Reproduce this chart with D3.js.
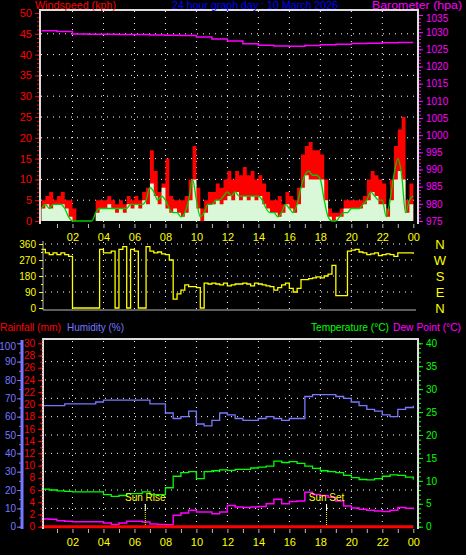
<!DOCTYPE html>
<html><head><meta charset="utf-8">
<script src="https://cdn.jsdelivr.net/npm/d3@7/dist/d3.min.js"></script>
<style>body{margin:0;background:#000}svg{display:block}text{font-family:"Liberation Sans",Arial,sans-serif}</style>
</head><body><svg id="c" width="466" height="555"></svg>
<script>
const hourLabels=["02","04","06","08","10","12","14","16","18","20","22","00"];
// quarter-hourly wind (kph), hours 0..24
const windGust=[5,6,7,5,6,7,5,5,3,0,0,0,0,0,5,5,5,6,5,4,5,4,6,5,6,5,7,8,17,12,7,9,15,6,5,5,5,6,10,18,8,3,5,7,7,9,8,10,12,10,12,11,13,11,12,10,11,9,7,5,5,6,4,7,6,5,8,16,18,19,17,17,16,10,3,2,2,3,5,5,5,5,5,6,10,12,11,10,9,3,10,18,22,25,5,9,10];
const windSpeed=[3,4,3,4,4,4,3,1,0,0,0,0,0,0,2,3,3,4,3,2,3,2,4,3,4,3,5,4,9,6,4,8,3,2,3,2,1,2,5,10,3,0,2,4,4,5,4,5,6,5,7,5,6,5,6,5,6,4,3,2,2,1,2,4,3,2,4,8,11,10,10,10,10,5,1,0,1,1,3,3,3,3,3,4,5,7,6,4,4,1,5,10,12,10,2,4,5];
const windAvg=[3,4,3,4,4,4,3,1,0,0,0,0,0,0,2,3,3,3,3,3,3,3,3,4,4,4,4,5,8,7,5,6,5,3,2,2,1,2,5,10,5,1,2,4,4,5,5,6,7,6,7,6,6,6,6,6,6,5,3,2,2,1,2,4,3,2,4,8,11,12,11,11,10,5,1,0,0,1,2,2,3,3,3,4,5,7,6,5,5,1,5,11,15,11,2,5,6];
const windDir=[330,310,300,310,300,310,300,290,0,0,0,0,0,0,0,330,310,310,320,0,330,345,0,330,320,0,0,345,320,310,315,305,300,270,50,80,100,130,120,120,115,0,140,135,140,135,130,140,125,130,135,135,140,135,125,140,135,130,125,120,100,115,130,140,110,90,110,160,160,165,170,175,170,180,190,240,70,70,70,320,325,330,315,310,300,305,310,295,300,305,300,290,310,310,310,310,305];
// hourly barometer (hPa), hours 0..24
const baro=[1030.4,1030.2,1029.5,1029.4,1029.4,1029.3,1029.3,1029.2,1029.1,1029,1028.6,1028,1027.4,1026.6,1026.2,1026,1025.9,1026.1,1026.3,1026.5,1026.7,1026.8,1026.9,1027,1027];
// half-hourly humidity, temperature, dew point, rain
const humidity=[66,66,66,67,67,67,67,68,69,69,69,69,69,69,67,67,62,59,60,63,56,55,58,62,61,59,58,58,59,60,59,58,59,59,71,72,72,72,71,70,68,66,64,63,61,60,64,65,66];
const temperature=[8.2,8,7.8,7.7,7.6,7.6,7.6,7.6,7,6.6,6.8,7.2,7.2,7.6,7,7,8.5,11,11.8,12,10.5,12,12.2,12.4,12.3,12.5,12.5,12.8,13,13.2,14.3,14,14.2,13.8,13.2,12.7,12.2,12,11.8,11.2,10.7,10.3,10.2,10.5,11,11.3,11.2,10.8,10.3];
const dewPoint=[1.7,1.6,1.3,1.2,1.1,1.1,1.1,1.1,0.8,0.5,0.8,1.2,1.2,1,0.6,0.5,0.4,2.5,3,3.6,3.2,3.2,2.8,3.2,4.6,4.3,4.2,4.3,4.4,5,6,5,5.5,5.6,7.5,7,6.8,6.4,5.6,4.5,4.1,3.8,3.6,3.4,3.3,3.6,4.2,4,3.8];
const rainfall=humidity.map(()=>0);
const sunRise=6.7, sunSet=18.4;

const svg=d3.select("#c");
svg.append("rect").attr("width",466).attr("height",555).attr("fill","#000");
const x=d3.scaleLinear().domain([0,24]).range([41.5,413.3]);

function hGrid(ys,x0,x1){ys.forEach(y=>svg.append("line").attr("x1",x0).attr("x2",x1).attr("y1",y).attr("y2",y).attr("stroke","#fff").attr("stroke-dasharray","1,5"));}
function vGrid(y0,y1){d3.range(2,24,2).forEach(h=>svg.append("line").attr("x1",x(h)).attr("x2",x(h)).attr("y1",y0).attr("y2",y1).attr("stroke","#fff").attr("stroke-dasharray","1,5"));}
function hourAxis(y){
  const g=svg.append("g").attr("transform",`translate(0,${y})`);
  g.call(d3.axisBottom(x).tickValues(d3.range(1,25)).tickSize(4).tickFormat(d=>d%2?"":hourLabels[d/2-1]));
  g.select(".domain").remove();g.selectAll("line").attr("stroke","#bbb");
  g.selectAll("text").attr("fill","#ff0").attr("font-size",11).attr("dy","0.9em");
}
function vAxis(scale,xpos,vals,minor,color,orient,fs,pad){
  const ax=(orient==="left"?d3.axisLeft(scale):d3.axisRight(scale));
  const g=svg.append("g").attr("transform",`translate(${xpos},0)`);
  g.call(ax.tickValues(vals).tickSize(4).tickPadding(pad||3).tickFormat(d3.format("d")));
  g.selectAll(".domain").remove();g.selectAll("line").attr("stroke",color);
  g.selectAll("text").attr("fill",color).attr("font-size",fs||11);
  const m=svg.append("g").attr("transform",`translate(${xpos},0)`);
  m.call((orient==="left"?d3.axisLeft(scale):d3.axisRight(scale)).tickValues(minor).tickSize(2).tickFormat(""));
  m.select(".domain").remove();m.selectAll("line").attr("stroke",color);
}
function txt(s,xx,y,c,w,fs){svg.append("text").attr("x",xx).attr("y",y).attr("fill",c).attr("font-size",fs||12).attr("textLength",w).attr("lengthAdjust","spacingAndGlyphs").text(s);}

// ===== Top panel
const yW=d3.scaleLinear().domain([0,50]).range([221,13]);
const yB=d3.scaleLinear().domain([975,1035]).range([221,15]);
hGrid(d3.range(5,50,5).map(yW),41,417);vGrid(11,223);
const stepA=(ys)=>d3.area().x((d,i)=>x(i/4)).y0(yW(0)).y1(d=>ys(d)).curve(d3.curveStepAfter);
svg.append("path").datum(windGust).attr("d",stepA(yW)).attr("fill","#f00");
svg.append("path").datum(windSpeed).attr("d",stepA(yW)).attr("fill","#d8f8d8");
svg.append("path").datum(windAvg).attr("d",d3.line().x((d,i)=>x(i/4)).y(yW).curve(d3.curveMonotoneX)).attr("fill","none").attr("stroke","#0c0").attr("stroke-width",1.3);
svg.append("path").datum(baro).attr("d",d3.line().x((d,i)=>x(i)).y(yB).curve(d3.curveStepAfter)).attr("fill","none").attr("stroke","#f0f").attr("stroke-width",1.5);
svg.append("path").attr("d","M40,224V10H418V224").attr("fill","none").attr("stroke","#ddd").attr("stroke-width",2);
vAxis(yW,39,d3.range(0,51,5),d3.range(0,51,1),"#f00","left");
vAxis(yB,419,d3.range(975,1036,5),d3.range(975,1036,1),"#f0f","right",10);
svg.selectAll("g text").filter(function(){return this.textContent==="1035";}).attr("dy","0.6em");
hourAxis(224);
txt("Windspeed (kph)",35,9,"#f00",81,11);
txt("24 hour graph day : 10 March 2026",172,9,"#00f",166,11);
txt("Barometer (hpa)",372,9,"#f0f",90,11);

// ===== Middle panel
const yD=d3.scaleLinear().domain([0,360]).range([308,244]);
hGrid([90,180,270,360].map(yD),45,415);vGrid(242,309);
svg.append("path").datum(windDir).attr("d",d3.line().x((d,i)=>x(i/4)).y(yD).curve(d3.curveStepAfter)).attr("fill","none").attr("stroke","#ff0").attr("stroke-width",1.3);
svg.append("path").attr("d","M43,241V310H416").attr("fill","none").attr("stroke","#bbb").attr("stroke-width",1);
vAxis(yD,43,[0,90,180,270,360],d3.range(0,361,45),"#ff0","left",10);
["N","W","S","E","N"].forEach((s,i)=>svg.append("text").attr("x",440).attr("y",yD(360-i*90)+5).attr("fill","#ff0").attr("font-size",13).attr("text-anchor","middle").text(s));

// ===== Bottom panel
const yH=d3.scaleLinear().domain([0,100]).range([526.7,343.3]);
const yR=d3.scaleLinear().domain([0,30]).range([526.7,343.3]);
const yT=d3.scaleLinear().domain([0,40]).range([526.7,343.3]);
hGrid(d3.range(10,100,10).map(yH),45,416);vGrid(341,528);
const ln=(ys)=>d3.line().x((d,i)=>x(i/2)).y(ys).curve(d3.curveStepAfter);
svg.append("path").datum(humidity).attr("d",ln(yH)).attr("fill","none").attr("stroke","#77f").attr("stroke-width",1.3);
svg.append("path").datum(temperature).attr("d",ln(yT)).attr("fill","none").attr("stroke","#0f0").attr("stroke-width",1.3);
svg.append("path").datum(dewPoint).attr("d",ln(yT)).attr("fill","none").attr("stroke","#f0f").attr("stroke-width",1.5);
svg.append("path").datum(rainfall).attr("d",ln(yR)).attr("fill","none").attr("stroke","#f00").attr("stroke-width",3);
[[sunRise,"Sun Rise"],[sunSet,"Sun Set"]].forEach(([h,s])=>{
  svg.append("line").attr("x1",x(h)).attr("x2",x(h)).attr("y1",504).attr("y2",526).attr("stroke","#ff0").attr("stroke-dasharray","1,1");
  svg.append("line").attr("x1",x(h)).attr("x2",x(h)).attr("y1",504).attr("y2",511).attr("stroke","#fff");
  svg.append("text").attr("x",x(h)).attr("y",501).attr("fill","#ff0").attr("font-size",10).attr("text-anchor","middle").text(s);
});
svg.append("path").attr("d","M43,529V339H418V529").attr("fill","none").attr("stroke","#ddd").attr("stroke-width",2);
svg.append("line").attr("x1",22).attr("x2",22).attr("y1",340).attr("y2",529).attr("stroke","#77f").attr("stroke-width",3);
vAxis(yH,21,d3.range(0,101,10),d3.range(0,101,5),"#77f","left",10,1);
svg.selectAll("g text").filter(function(){return this.textContent==="100";}).attr("dy","0.6em");
vAxis(yR,42,d3.range(0,31,2),d3.range(0,31,1),"#f00","left",10);
svg.append("line").attr("x1",42).attr("x2",42).attr("y1",340).attr("y2",529).attr("stroke","#f00").attr("stroke-dasharray","1,2");
vAxis(yT,419,d3.range(0,41,5),d3.range(0,41,1),"#0f0","right",10);
hourAxis(529);
txt("Rainfall (mm)",0,331,"#f00",61,11);
txt("Humidity (%)",67,331,"#77f",57,11);
txt("Temperature (°C)",311,331,"#0f0",78,11);
txt("Dew Point (°C)",393,331,"#f0f",68,11);
</script></body></html>
